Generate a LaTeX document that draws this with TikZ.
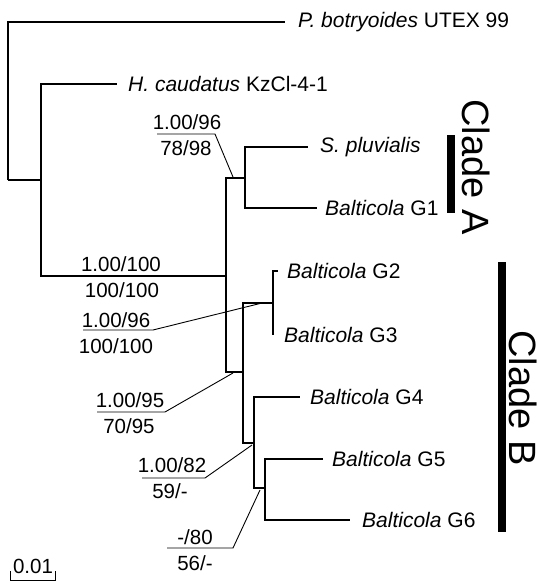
\documentclass[tikz,border=0pt]{standalone}
\usepackage{fontspec}
\setmainfont{Liberation Sans}
\usepackage{tikz}
\usetikzlibrary{positioning}

\begin{document}
\begin{tikzpicture}[x=1pt,y=-1pt]
\tikzstyle{br}=[line width=1.2pt]
\tikzstyle{brThick}=[line width=1.8pt]
\tikzstyle{taxon}=[inner sep=0pt, font=\fontsize{21}{24}\selectfont]
\tikzstyle{sup}=[inner sep=0pt, font=\fontsize{20.5}{24}\selectfont]
\tikzstyle{lead}=[line width=0.9pt]
\tikzstyle{clade}=[inner sep=0pt, rotate=-90, font=\fontsize{38}{40}\selectfont]
\tikzstyle{bar}=[line width=7.5pt]
\useasboundingbox (0,0) rectangle (539,584);
% tree points
\coordinate (r) at (8,180);
\coordinate (n1) at (41,180);
\coordinate (n2) at (226,276);
\coordinate (nA) at (245,178);
\coordinate (nB) at (243,372);
\coordinate (nG23) at (273,303);
\coordinate (nC) at (254,443);
\coordinate (nD) at (265,488);
% tips
\coordinate (tP) at (285,22);
\coordinate (tH) at (117,84);
\coordinate (tS) at (308,147);
\coordinate (tG1) at (317,208);
\coordinate (tG2) at (278,271);
\coordinate (tG3) at (273,335);
\coordinate (tG4) at (300,397);
\coordinate (tG5) at (323,459);
\coordinate (tG6) at (350,520);
% branches
\draw[brThick] (r) |- (tP);
\draw[br] (r) -- (n1);
\draw[br] (n1) |- (tH);
\draw[br] (n1) |- (n2);
\draw[br] (n2) |- (nA);
\draw[br] (n2) |- (nB);
\draw[br] (nA) |- (tS);
\draw[br] (nA) |- (tG1);
\draw[br] (nB) |- (nG23);
\draw[br] (nB) |- (nC);
\draw[br] (nG23) |- (tG2);
\draw[br] (nG23) |- (tG3);
\draw[brThick] (nC) |- (tG4);
\draw[br] (nC) |- (nD);
\draw[br] (nD) |- (tG5);
\draw[br] (nD) |- (tG6);
% taxon labels
\node[taxon, right=13pt of tP] (lP) {\textit{P. botryoides} UTEX 99};
\node[taxon, right=11pt of tH] (lH) {\textit{H. caudatus} KzCl-4-1};
\node[taxon, right=12pt of tS] (lS) {\textit{S. pluvialis}};
\node[taxon, right=8pt of tG1] (lG1) {\textit{Balticola} G1};
\node[taxon, right=9pt of tG2] (lG2) {\textit{Balticola} G2};
\node[taxon, right=11pt of tG3] (lG3) {\textit{Balticola} G3};
\node[taxon, right=10pt of tG4] (lG4) {\textit{Balticola} G4};
\node[taxon, right=9pt of tG5] (lG5) {\textit{Balticola} G5};
\node[taxon, right=12pt of tG6] (lG6) {\textit{Balticola} G6};
% support values
\node[sup] (sA1) at (187,122) {1.00/96};
\node[sup] (sA2) at (186,148) {78/98};
\coordinate (uA1) at (157,134);
\coordinate (uA2) at (215,134);
\coordinate (pA) at (233,177);
\draw[lead] (uA1) -- (uA2) -- (pA);
\node[sup] (sR1) at (121,264) {1.00/100};
\node[sup] (sR2) at (122,290) {100/100};
\node[sup] (sG1) at (116,320) {1.00/96};
\node[sup] (sG2) at (116,346) {100/100};
\coordinate (uG1) at (83,330);
\coordinate (uG2) at (153,330);
\coordinate (pG) at (262,303);
\draw[lead] (uG1) -- (uG2) -- (pG);
\node[sup] (sB1) at (130,400) {1.00/95};
\node[sup] (sB2) at (129,426) {70/95};
\coordinate (uB1) at (97,412);
\coordinate (uB2) at (165,412);
\coordinate (pB) at (233,373);
\draw[lead] (uB1) -- (uB2) -- (pB);
\node[sup] (sC1) at (172,465) {1.00/82};
\node[sup] (sC2) at (170,491) {59/-};
\coordinate (uC1) at (142,478);
\coordinate (uC2) at (205,478);
\coordinate (pC) at (252,445);
\draw[lead] (uC1) -- (uC2) -- (pC);
\node[sup] (sD1) at (195,537) {-/80};
\node[sup] (sD2) at (195,563) {56/-};
\coordinate (uD1) at (167,548);
\coordinate (uD2) at (233,548);
\coordinate (pD) at (260,490);
\draw[lead] (uD1) -- (uD2) -- (pD);
% clades
\coordinate (cA1) at (451,135);
\coordinate (cA2) at (451,213);
\draw[bar] (cA1) -- (cA2);
\node[clade] (cA) at (476,167) {Clade A};
\coordinate (cB1) at (502,262);
\coordinate (cB2) at (502,532);
\draw[bar] (cB1) -- (cB2);
\node[clade] (cB) at (523,398) {Clade B};
% scale bar
\coordinate (sb1) at (10,580);
\coordinate (sb2) at (55,580);
\draw[lead] ([yshift=9pt]sb1) -- (sb1) -- (sb2) -- ([yshift=9pt]sb2);
\node[sup] (sbl) at (33,566) {0.01};
\end{tikzpicture}
\end{document}
